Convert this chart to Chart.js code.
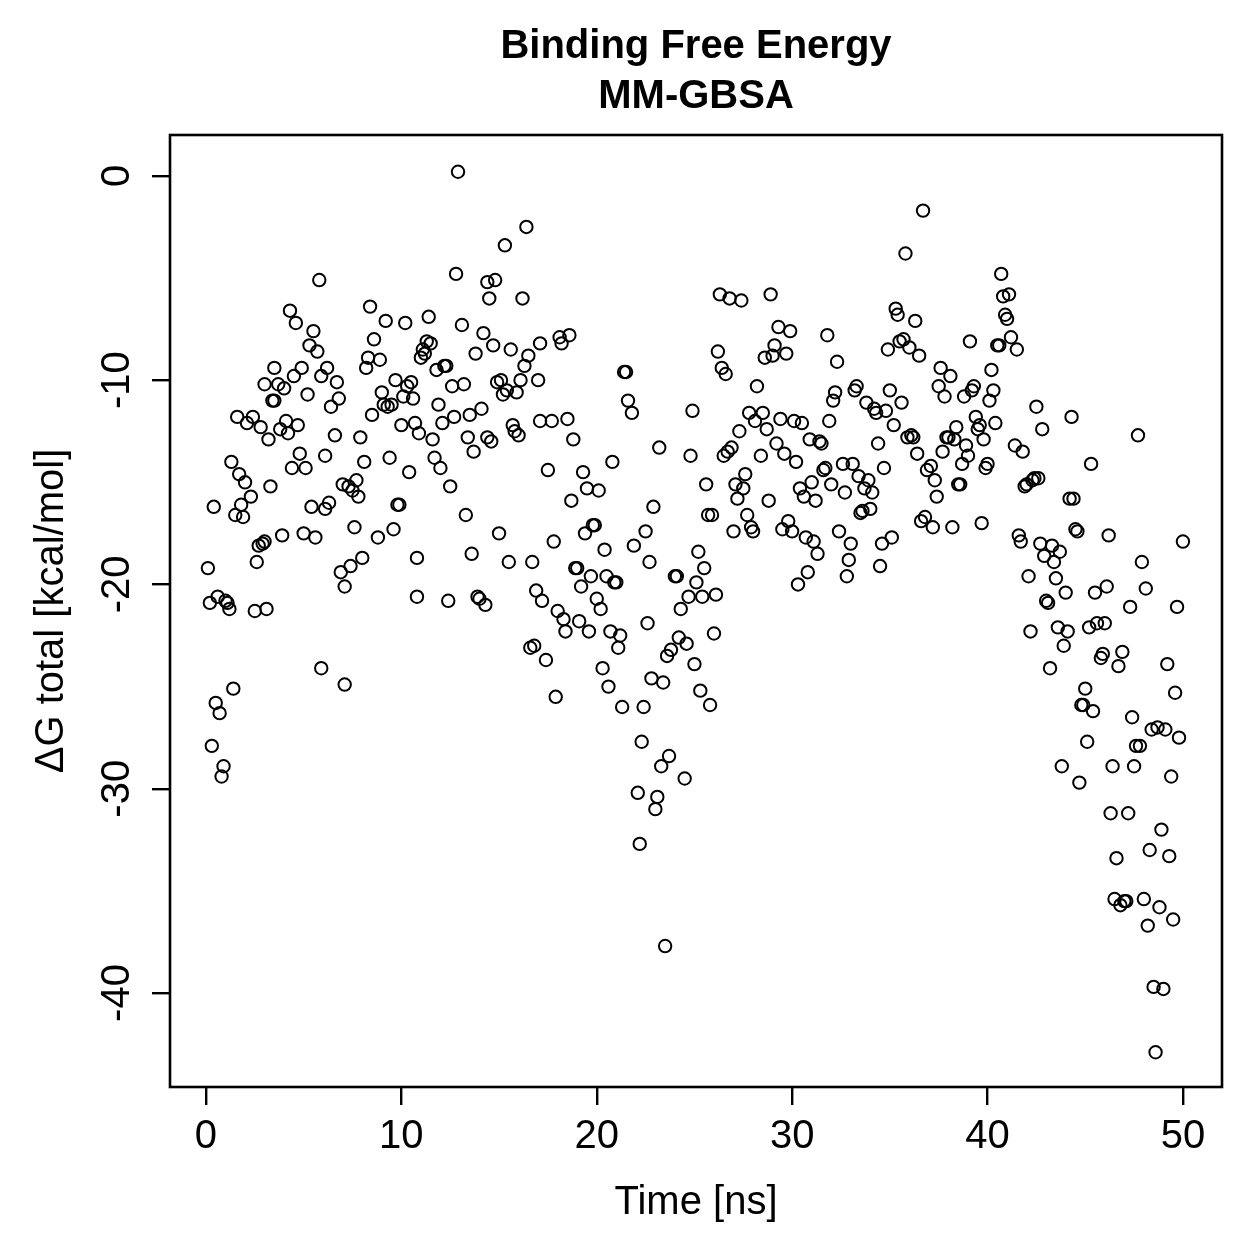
<!DOCTYPE html>
<html>
<head>
<meta charset="utf-8">
<script src="https://cdn.jsdelivr.net/npm/chart.js@4.4.1/dist/chart.umd.min.js"></script>
<style>
  html, body { margin: 0; padding: 0; background: #fff; }
  canvas { display: block; }
</style>
</head>
<body>
<canvas id="chart" width="1259" height="1259"></canvas>
<script>
'use strict';

//#region Data

const titleLines = ['Binding Free Energy', 'MM-GBSA'];
const xTitle = 'Time [ns]';
const yTitle = 'ΔG total [kcal/mol]';
const xTicks = [0, 10, 20, 30, 40, 50];
const yTicks = [0, -10, -20, -30, -40];

// time of each frame [ns]
const times = [
  0.1,0.2,0.3,0.4,0.5,0.6,0.7,0.8,0.9,1.0,
  1.1,1.2,1.3,1.4,1.5,1.6,1.7,1.8,1.9,2.0,
  2.1,2.3,2.4,2.5,2.6,2.7,2.8,2.9,3.0,3.0,
  3.1,3.2,3.3,3.4,3.5,3.5,3.7,3.8,3.9,4.0,
  4.1,4.2,4.3,4.4,4.5,4.6,4.7,4.8,4.9,5.0,
  5.1,5.2,5.3,5.4,5.5,5.6,5.7,5.8,5.9,5.9,
  6.1,6.1,6.2,6.3,6.4,6.6,6.7,6.8,6.9,7.0,
  7.1,7.1,7.3,7.4,7.5,7.6,7.7,7.8,7.9,8.0,
  8.1,8.2,8.3,8.4,8.5,8.6,8.8,8.9,9.0,9.1,
  9.2,9.3,9.4,9.5,9.6,9.7,9.8,9.9,10.0,10.1,
  10.2,10.3,10.4,10.5,10.6,10.7,10.8,10.8,10.9,11.0,
  11.1,11.2,11.3,11.4,11.5,11.6,11.7,11.8,11.9,12.0,
  12.1,12.2,12.3,12.4,12.5,12.6,12.7,12.8,12.9,13.1,
  13.2,13.3,13.4,13.5,13.6,13.7,13.8,13.9,14.0,14.1,
  14.2,14.3,14.4,14.4,14.5,14.6,14.7,14.8,14.9,15.0,
  15.1,15.2,15.3,15.4,15.5,15.6,15.7,15.8,15.9,16.0,
  16.1,16.2,16.3,16.4,16.5,16.6,16.7,16.8,16.9,17.0,
  17.1,17.1,17.2,17.4,17.5,17.7,17.8,17.9,18.0,18.1,
  18.2,18.3,18.4,18.5,18.6,18.7,18.8,18.9,19.0,19.1,
  19.2,19.3,19.4,19.5,19.6,19.7,19.8,19.9,20.0,20.1,
  20.2,20.3,20.4,20.5,20.6,20.7,20.8,20.9,21.0,21.1,
  21.2,21.3,21.4,21.5,21.6,21.8,21.9,22.1,22.2,22.3,
  22.4,22.5,22.6,22.7,22.8,22.9,23.0,23.1,23.2,23.3,
  23.4,23.5,23.6,23.7,23.8,24.0,24.1,24.2,24.3,24.5,
  24.6,24.7,24.8,24.9,25.0,25.1,25.2,25.3,25.4,25.5,
  25.6,25.7,25.8,25.9,26.0,26.1,26.2,26.3,26.4,26.5,
  26.6,26.7,26.8,26.9,27.0,27.1,27.2,27.3,27.4,27.5,
  27.6,27.7,27.8,27.9,28.0,28.1,28.2,28.4,28.5,28.6,
  28.7,28.8,28.9,29.0,29.1,29.2,29.3,29.4,29.5,29.6,
  29.7,29.8,29.9,30.0,30.1,30.2,30.3,30.4,30.5,30.6,
  30.7,30.8,30.9,31.0,31.1,31.2,31.3,31.4,31.5,31.6,
  31.7,31.8,31.9,32.0,32.1,32.2,32.3,32.4,32.6,32.7,
  32.8,32.9,33.0,33.1,33.2,33.3,33.4,33.5,33.6,33.7,
  33.8,33.9,34.0,34.1,34.2,34.3,34.4,34.5,34.6,34.7,
  34.8,34.9,35.0,35.1,35.2,35.3,35.4,35.5,35.6,35.7,
  35.8,35.9,36.0,36.1,36.2,36.3,36.4,36.5,36.6,36.7,
  36.8,36.9,37.1,37.2,37.3,37.4,37.5,37.6,37.7,37.8,
  37.9,38.0,38.1,38.2,38.3,38.4,38.5,38.6,38.7,38.8,
  38.9,39.0,39.1,39.2,39.3,39.4,39.5,39.6,39.7,39.8,
  39.9,40.0,40.1,40.2,40.3,40.4,40.5,40.6,40.7,40.8,
  40.9,41.0,41.1,41.2,41.4,41.5,41.6,41.7,41.8,41.9,
  42.0,42.1,42.2,42.3,42.4,42.5,42.6,42.7,42.8,42.9,
  43.0,43.1,43.2,43.3,43.4,43.5,43.6,43.7,43.8,43.9,
  44.0,44.1,44.2,44.3,44.4,44.5,44.6,44.7,44.8,44.9,
  45.0,45.1,45.2,45.3,45.4,45.5,45.6,45.8,45.9,46.0,
  46.1,46.2,46.3,46.4,46.5,46.6,46.7,46.8,46.9,47.0,
  47.1,47.2,47.3,47.4,47.5,47.6,47.7,47.8,47.9,48.0,
  48.1,48.2,48.3,48.4,48.5,48.6,48.7,48.8,48.9,49.0,
  49.1,49.2,49.3,49.4,49.5,49.6,49.7,49.8,50.0
];

// delta G total [kcal/mol] per frame
const dGTotal = [
  -19.2,-20.9,-27.9,-16.2,-25.8,-20.6,-26.3,-29.4,-28.9,-20.8,
  -20.9,-21.2,-14.0,-25.1,-16.6,-11.8,-14.6,-16.1,-16.7,-15.0,
  -12.1,-15.7,-11.8,-21.3,-18.9,-18.1,-12.3,-18.0,-17.9,-10.2,
  -21.2,-12.9,-15.2,-11.0,-9.4,-11.0,-10.2,-12.4,-17.6,-10.4,
  -12.0,-12.6,-6.6,-14.3,-9.8,-7.2,-12.2,-13.6,-9.4,-17.5,
  -14.3,-10.7,-8.3,-16.2,-7.6,-17.7,-8.6,-5.1,-9.8,-24.1,
  -16.3,-13.7,-9.4,-16.0,-11.3,-12.7,-10.1,-10.9,-19.4,-15.1,
  -20.1,-24.9,-15.2,-19.1,-15.4,-17.2,-14.9,-15.7,-12.8,-18.7,
  -14.0,-9.4,-8.9,-6.4,-11.7,-8.0,-17.7,-9.0,-10.6,-11.2,
  -7.1,-11.3,-13.8,-11.2,-17.3,-10.0,-16.1,-16.1,-12.2,-10.8,
  -7.2,-10.3,-14.5,-10.1,-10.9,-12.1,-18.7,-20.6,-12.6,-8.9,
  -8.5,-8.7,-8.1,-6.9,-8.2,-12.9,-13.8,-9.5,-11.2,-14.3,
  -12.1,-9.3,-9.3,-20.8,-15.2,-10.3,-11.8,-4.8,0.2,-7.3,
  -10.2,-16.6,-12.8,-11.7,-18.5,-13.5,-8.7,-20.6,-20.7,-11.4,
  -7.7,-21.0,-12.8,-5.2,-6.0,-13.0,-8.3,-5.1,-10.1,-17.5,
  -10.0,-10.7,-3.4,-10.5,-18.9,-8.5,-12.2,-12.5,-10.6,-12.7,
  -10.0,-6.0,-9.3,-2.5,-8.8,-23.1,-18.9,-23.0,-20.3,-10.0,
  -8.2,-12.0,-20.8,-23.7,-14.4,-12.0,-17.9,-25.5,-21.3,-7.9,
  -8.2,-21.7,-22.3,-11.9,-7.8,-15.9,-12.9,-19.2,-19.2,-21.8,
  -20.1,-14.5,-17.5,-15.3,-22.3,-19.6,-17.1,-17.1,-20.7,-15.4,
  -21.2,-24.1,-18.3,-19.6,-25.0,-22.3,-14.0,-19.9,-19.9,-23.1,
  -22.5,-26.0,-9.6,-9.6,-11.0,-11.6,-18.1,-30.2,-32.7,-27.7,
  -26.0,-17.4,-21.9,-18.9,-24.6,-16.2,-31.0,-30.4,-13.3,-28.9,
  -24.8,-37.7,-23.5,-28.4,-23.2,-19.6,-19.6,-22.6,-21.2,-29.5,
  -22.9,-20.6,-13.7,-11.5,-23.9,-19.9,-18.4,-25.2,-20.6,-19.2,
  -15.1,-16.6,-25.9,-16.6,-22.4,-20.5,-8.6,-5.8,-9.4,-13.7,
  -9.7,-13.5,-6.0,-13.3,-17.4,-15.1,-15.8,-12.5,-6.1,-15.3,
  -14.6,-16.6,-11.6,-17.2,-17.4,-12.0,-10.3,-13.7,-11.6,-8.9,
  -12.4,-15.9,-5.8,-8.8,-8.3,-13.1,-7.4,-11.9,-17.3,-13.6,
  -8.7,-16.9,-7.6,-17.4,-12.0,-14.0,-20.0,-15.3,-12.1,-15.7,
  -17.7,-19.4,-12.9,-15.0,-17.9,-15.9,-18.5,-13.0,-13.1,-14.4,
  -14.3,-7.8,-12.0,-15.1,-11.0,-10.6,-9.1,-17.4,-14.1,-15.5,
  -19.6,-18.8,-18.0,-14.1,-10.5,-10.3,-14.7,-16.5,-16.4,-15.3,
  -11.1,-14.9,-16.3,-15.5,-11.4,-11.6,-13.1,-19.1,-18.0,-14.3,
  -11.5,-8.5,-10.5,-17.7,-12.2,-6.5,-6.8,-8.1,-11.1,-8.0,
  -3.8,-12.8,-8.4,-12.7,-12.8,-7.1,-13.6,-8.8,-16.9,-1.7,
  -16.7,-14.4,-14.2,-17.2,-14.9,-15.7,-10.3,-9.4,-13.5,-10.8,
  -12.8,-12.8,-9.8,-17.2,-12.9,-12.3,-15.1,-15.1,-14.1,-10.8,
  -13.2,-13.7,-8.1,-10.5,-10.3,-11.8,-12.4,-12.2,-17.0,-12.9,
  -14.3,-14.1,-11.0,-9.5,-10.5,-12.1,-8.3,-8.3,-4.8,-5.9,
  -6.8,-7.0,-5.8,-7.9,-13.2,-8.5,-17.6,-17.9,-13.5,-15.2,
  -15.1,-19.6,-22.3,-14.9,-14.8,-11.3,-14.8,-18.0,-12.4,-18.6,
  -20.8,-20.9,-24.1,-18.1,-18.9,-19.7,-22.1,-18.4,-28.9,-23.0,
  -20.4,-22.3,-15.8,-11.8,-15.8,-17.3,-17.4,-29.7,-25.9,-25.9,
  -25.1,-27.7,-22.1,-14.1,-26.2,-20.4,-21.9,-23.6,-23.4,-21.9,
  -20.1,-17.6,-31.2,-28.9,-35.4,-33.4,-24.0,-35.7,-23.3,-35.5,
  -35.5,-31.2,-21.1,-26.5,-28.9,-27.9,-12.7,-27.9,-18.9,-35.4,
  -20.2,-36.7,-33.0,-27.1,-39.7,-42.9,-27.0,-35.8,-32.0,-39.8,
  -27.1,-23.9,-33.3,-29.4,-36.4,-25.3,-21.1,-27.5,-17.9
];

//#endregion

//#region Chart

const chartElem = document.getElementById('chart');
const context = chartElem.getContext('2d');
const fontFamily = '"Liberation Sans", Arial, Helvetica, sans-serif';

const points = times.map((t, i) => ({ x: t, y: dGTotal[i] }));

// box, rotated y labels and titles
const frameAndText = {
  id: 'frameAndText',
  afterDraw(chart) {
    const ctx = chart.ctx;
    const area = chart.chartArea;
    const yScale = chart.scales.y;
    ctx.save();
    ctx.strokeStyle = '#000';
    ctx.lineWidth = 2.6;
    ctx.strokeRect(area.left, area.top, area.right - area.left, area.bottom - area.top);

    ctx.fillStyle = '#000';
    ctx.textAlign = 'center';
    ctx.textBaseline = 'middle';

    ctx.font = `40px ${fontFamily}`;
    yTicks.forEach(v => {
      ctx.save();
      ctx.translate(118, yScale.getPixelForValue(v));
      ctx.rotate(-Math.PI / 2);
      ctx.fillText(String(v), 0, 0);
      ctx.restore();
    });

    ctx.save();
    ctx.translate(52, (area.top + area.bottom) / 2);
    ctx.rotate(-Math.PI / 2);
    ctx.fillText(yTitle, 0, 0);
    ctx.restore();

    const midX = (area.left + area.right) / 2;
    ctx.fillText(xTitle, midX, 1203);

    ctx.font = `bold 40px ${fontFamily}`;
    ctx.fillText(titleLines[0], midX, 47);
    ctx.fillText(titleLines[1], midX, 97);
    ctx.restore();
  }
};

const chartObj = {
  type: 'scatter',
  data: {
    datasets: [{
      data: points,
      pointStyle: 'circle',
      pointRadius: 6.2,
      borderColor: '#000',
      backgroundColor: 'rgba(0,0,0,0)',
      borderWidth: 2
    }]
  },
  options: {
    responsive: false,
    animation: false,
    layout: { padding: { top: 135, right: 37, left: 0, bottom: 0 } },
    plugins: {
      legend: { display: false },
      tooltip: { enabled: false }
    },
    scales: {
      x: {
        type: 'linear',
        min: -1.84,
        max: 52.0,
        afterBuildTicks: scale => { scale.ticks = xTicks.map(v => ({ value: v })); },
        afterFit: scale => { scale.height = 172; },
        grid: { drawOnChartArea: false, drawTicks: true, tickLength: 18, color: '#000', lineWidth: 2.4 },
        border: { display: false },
        ticks: { color: '#000', font: { family: fontFamily, size: 40 }, padding: 8, maxRotation: 0 }
      },
      y: {
        type: 'linear',
        min: -44.6,
        max: 2.0,
        afterBuildTicks: scale => { scale.ticks = yTicks.map(v => ({ value: v })); },
        afterFit: scale => { scale.width = 170; },
        grid: { drawOnChartArea: false, drawTicks: true, tickLength: 18, color: '#000', lineWidth: 2.4 },
        border: { display: false },
        ticks: { display: false }
      }
    }
  },
  plugins: [frameAndText]
};

const chart = new Chart(context, chartObj); //eslint-disable-line

//#endregion
</script>
</body>
</html>
